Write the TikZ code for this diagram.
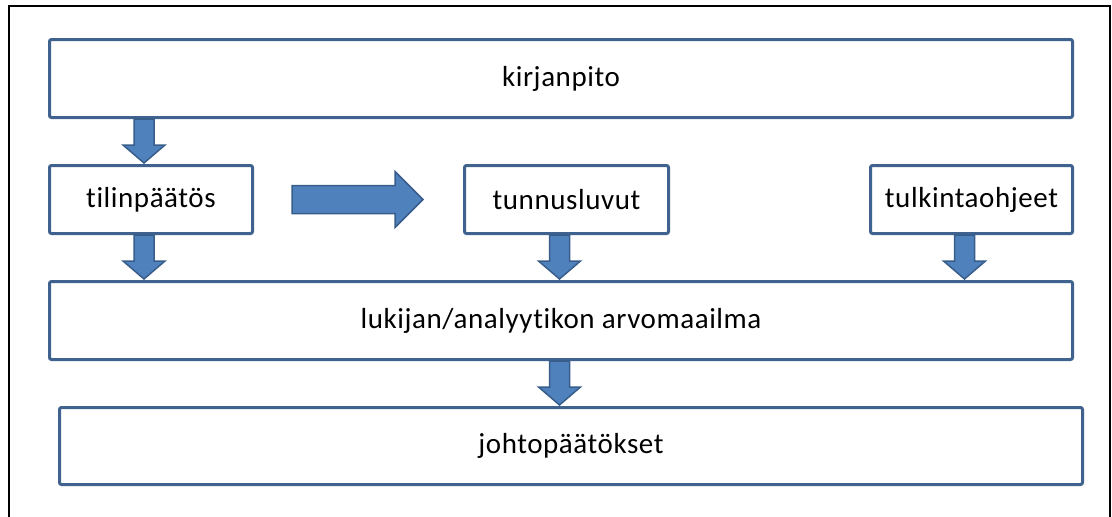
\documentclass[tikz,border=0pt]{standalone}
\usepackage{fontspec}
\setmainfont{Carlito}[Ligatures=NoCommon, LetterSpace=2]
\usetikzlibrary{positioning,calc}

\definecolor{boxline}{RGB}{63,98,143}
\definecolor{arrowfill}{RGB}{79,129,189}
\definecolor{arrowline}{RGB}{56,93,138}

\tikzset{
  stepbox/.style={draw=boxline, line width=3pt, rounded corners=2pt, fill=white,
    anchor=north west, inner sep=0pt, font=\fontsize{29}{34}\selectfont},
  blockarrow/.style={draw=arrowline, fill=arrowfill, line width=1.5pt, line join=miter}
}

\begin{document}
\begin{tikzpicture}[x=1pt, y=-1pt]
\useasboundingbox (0,0) rectangle (1112,517);
% outer frame, bottom edge falls outside
\draw[line width=2.5pt] (9,517) -- (9,6) -- (1110,6) -- (1110,517);

\node[stepbox, minimum width=1023pt, minimum height=78pt] (kirja) at (48,38) {kirjanpito};
\node[stepbox, minimum width=203pt, minimum height=68pt] (tilin) at (48,164) {tilinpäätös};
\node[stepbox, minimum width=204pt, minimum height=68pt] (tunnus) at (463,164) {tunnusluvut};
\node[stepbox, minimum width=202pt, minimum height=68pt] (tulkinta) at (869,164) {tulkintaohjeet};
\node[stepbox, minimum width=1023pt, minimum height=78pt] (lukija) at (48,280) {lukijan/analyytikon arvomaailma};
\node[stepbox, minimum width=1023pt, minimum height=77pt] (johto) at (58,406) {johtopäätökset};

% block arrows downwards, x taken from the third node
\foreach \a/\b/\c in {kirja/tilin/tilin,tilin/lukija/tilin,tunnus/lukija/tunnus,
                      tulkinta/lukija/tulkinta,lukija/johto/tunnus} {
  \draw[blockarrow] let \p0=($(\c.center)+(-7,0)$), \p1=(\a.south), \p2=(\b.north) in
    (\x0-10,\y1) -- (\x0+10,\y1) -- (\x0+10,\y2+19) -- (\x0+21,\y2+19)
    -- (\x0,\y2+1) -- (\x0-21,\y2+19) -- (\x0-10,\y2+19) -- cycle;
}
% block arrow to the right
\draw[blockarrow] let \p1=($(tilin.east)+(38,0)$), \p2=($(tunnus.west)+(-40,0)$) in
  (\x1,\y1+14) -- (\x2-28,\y1+14) -- (\x2-28,\y1+28) -- (\x2,\y1)
  -- (\x2-28,\y1-28) -- (\x2-28,\y1-14) -- (\x1,\y1-14) -- cycle;
\end{tikzpicture}
\end{document}
